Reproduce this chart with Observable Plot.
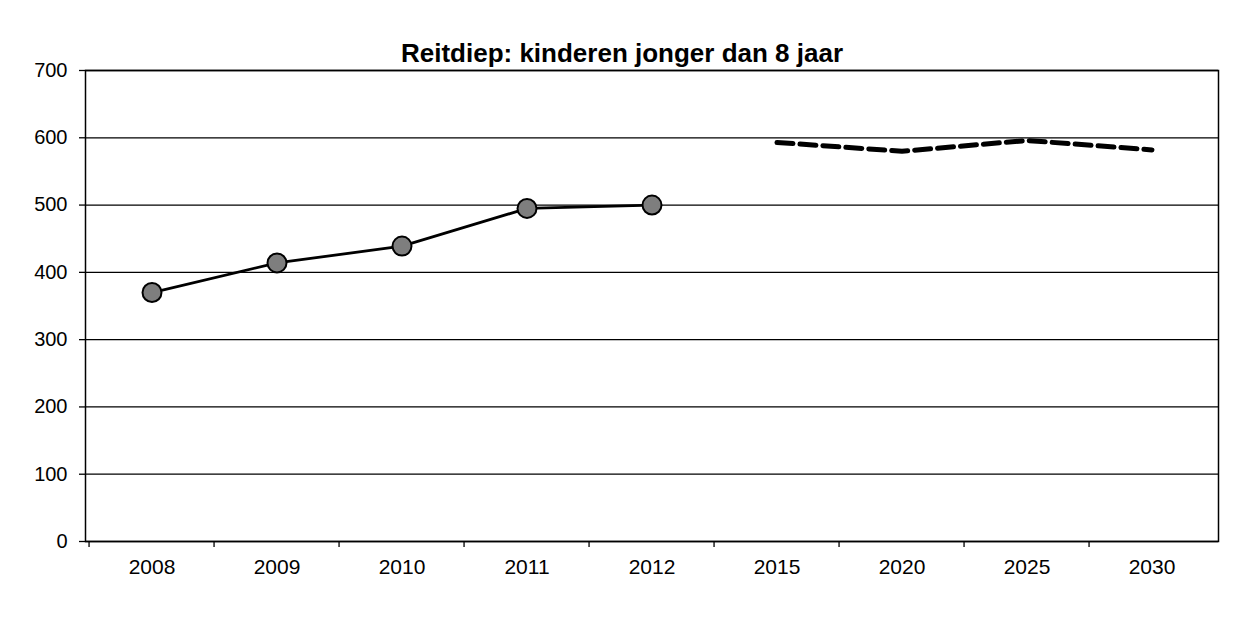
<!DOCTYPE html>
<html><head><meta charset="utf-8">
<script src="https://cdn.jsdelivr.net/npm/d3@7"></script>
<script src="https://cdn.jsdelivr.net/npm/@observablehq/plot@0.6"></script>
<style>html,body{margin:0;padding:0;background:#fff}</style>
</head><body><div id="chart"></div>
<script>
const title = "Reitdiep: kinderen jonger dan 8 jaar";
const years = ["2008", "2009", "2010", "2011", "2012", "2015", "2020", "2025", "2030"];
const actualYears = ["2008", "2009", "2010", "2011", "2012"];
const actualValues = [370, 414, 439, 495, 500];
const forecastYears = ["2015", "2020", "2025", "2030"];
const forecastValues = [593, 580, 596, 582];
const yTicks = [0, 100, 200, 300, 400, 500, 600, 700];

const actual = actualYears.map((year, i) => ({year, value: actualValues[i]}));
const forecast = forecastYears.map((year, i) => ({year, value: forecastValues[i]}));

const W = 1258, H = 629, mL = 85, mR = 40;
const band = (W - mL - mR) / years.length;

const chart = Plot.plot({
  width: W, height: H,
  marginLeft: mL, marginRight: mR, marginTop: 70, marginBottom: 88,
  style: {fontFamily: "'Liberation Sans', Arial, sans-serif", fontSize: "20px", color: "#000", background: "transparent"},
  x: {type: "band", domain: years, padding: 0, label: null},
  y: {domain: [0, 700], label: null},
  marks: [
    Plot.frame({fill: "#fff"}),
    Plot.ruleY(yTicks, {stroke: "#000", strokeWidth: 1.3}),
    Plot.frame({stroke: "#000", strokeWidth: 1.5}),
    Plot.axisY({ticks: yTicks, tickSize: 6, tickPadding: 12, label: null, fontSize: 20, strokeWidth: 1.3}),
    Plot.axisX({tickSize: 0, tickPadding: 18, label: null, fontSize: 21}),
    Plot.axisX({tickSize: 6, tickFormat: () => "", label: null, dx: -band / 2, strokeWidth: 1.3}),
    Plot.line(actual, {x: "year", y: "value", stroke: "#000", strokeWidth: 2.8}),
    Plot.dot(actual, {x: "year", y: "value", r: 9.5, fill: "#7e7e7e", stroke: "#000", strokeWidth: 2}),
    Plot.line(forecast, {x: "year", y: "value", stroke: "#000", strokeWidth: 5, strokeDasharray: "16,7"}),
    Plot.text([title], {frameAnchor: "top", lineAnchor: "middle", dy: -17, dx: -30, fontSize: 26, fontWeight: "bold"})
  ]
});
document.getElementById("chart").append(chart);
</script>
</body></html>
